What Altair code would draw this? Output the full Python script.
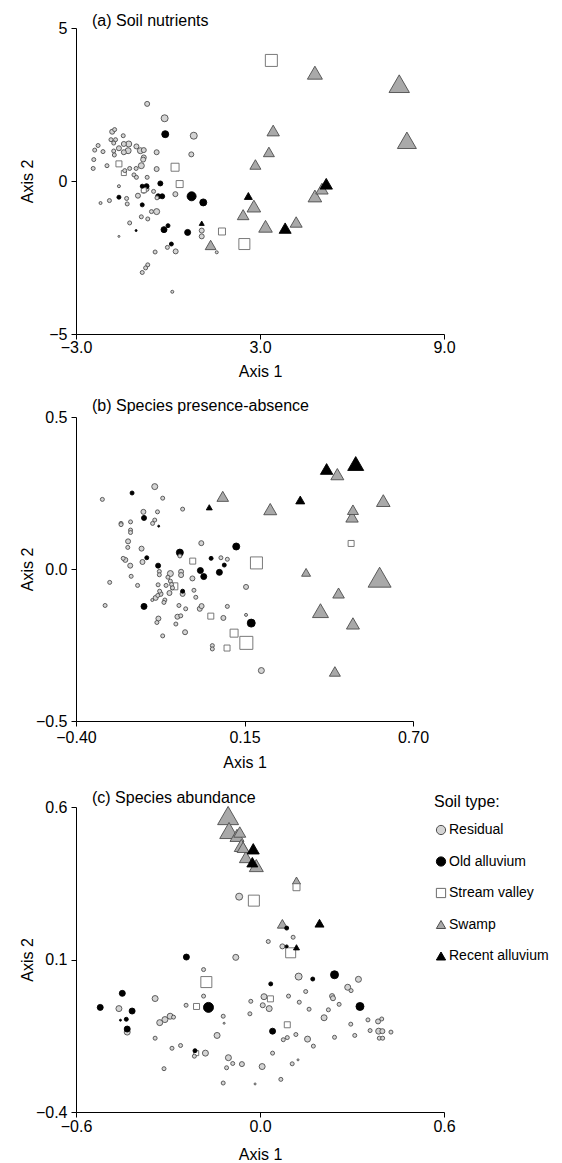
import altair as alt
import pandas as pd

SOIL = ["Residual", "Old alluvium", "Stream valley", "Swamp", "Recent alluvium"]
SHAPES = ["circle", "circle", "square", "triangle-up", "triangle-up"]
FILLS = ["#d4d4d4", "#000000", "#ffffff", "#a9a9a9", "#000000"]
STROKES = ["#4d4d4d", "#000000", "#6b6b6b", "#4d4d4d", "#000000"]

# ---------------- (a) Soil nutrients: (axis1, axis2, weight) ----------------
A_RES = [(-0.68, 2.52, 2.5), (-0.11, 2.05, 3.5), (0.84, 1.48, 3.5), (0.76, 0.87, 2.5),
         (-1.82, 1.61, 2.5), (-1.74, 1.68, 2), (-1.46, 1.48, 2), (-1.86, 1.35, 2),
         (-1.71, 1.35, 2), (-1.77, 1.24, 2), (-1.60, 1.07, 2.5), (-1.44, 1.21, 2.5),
         (-1.28, 1.21, 3), (-1.44, 0.94, 2.5), (-1.30, 0.99, 3), (-1.03, 1.13, 2.5),
         (-0.90, 0.99, 3), (-0.79, 1.01, 2.5), (-0.79, 0.77, 2.5), (-0.81, 0.70, 2.5),
         (-1.77, 0.98, 2), (-1.75, 0.85, 2), (-2.28, 1.16, 2), (-2.39, 1.01, 2),
         (-2.12, 0.96, 2), (-2.42, 0.70, 2), (-2.44, 0.41, 2), (-1.99, 0.50, 2),
         (-1.41, 0.34, 2), (-1.25, 0.41, 2), (-1.04, 0.41, 2), (-0.87, 0.50, 3),
         (-0.37, 0.94, 2.5), (-0.37, 0.39, 2.5), (-1.11, 0.20, 2), (-1.03, 0.12, 2),
         (-0.68, 0.12, 2), (-0.47, -0.34, 2), (-0.36, -0.55, 2), (0.24, -0.43, 2.5),
         (-0.79, -0.32, 2.5), (-0.70, -0.26, 2.5), (-0.98, -0.48, 2.5), (-1.35, -0.57, 2),
         (-1.33, -0.75, 2), (-1.91, -0.64, 2), (-2.20, -0.72, 1.5), (-1.60, -0.17, 1.5),
         (-0.87, -1.17, 2), (-0.66, -1.24, 2), (-0.54, -1.00, 2), (-0.37, -1.00, 3),
         (-1.25, -1.37, 2), (-1.60, -1.81, 1), (1.10, -1.62, 2.5), (1.10, -1.81, 2.5),
         (1.59, -2.33, 1.5), (-0.02, -2.17, 2), (0.25, -2.30, 2.5), (-0.42, -2.32, 2),
         (-0.66, -2.74, 2), (-0.73, -2.84, 2), (-0.84, -2.99, 2), (0.14, -3.62, 1.5)]
A_OLD = [(-0.09, 1.53, 3.5), (-0.25, -0.08, 2.5), (-0.32, -0.50, 2.5), (-0.19, -0.50, 2.5),
         (0.77, -0.50, 4.5), (1.15, -0.70, 3.5), (-0.84, -0.17, 2), (-0.70, -0.17, 2.5),
         (-1.60, -0.53, 2), (-0.84, -0.78, 2), (-1.04, -1.62, 1), (-0.13, -1.59, 3),
         (0.00, -1.46, 2), (0.64, -1.68, 3), (0.11, -2.06, 2)]
A_STREAM = [(3.37, 3.94, 6), (2.49, -2.06, 5.5), (1.76, -1.65, 3.5), (0.38, -0.10, 3.5),
            (0.23, 0.45, 4), (-1.60, 0.56, 3), (-1.44, 0.26, 2.5), (-0.79, -0.30, 2.5)]
A_SWAMP = [(4.79, 3.54, 7.5), (7.54, 3.18, 10.2), (7.79, 1.33, 9.5), (3.43, 1.65, 6.2),
           (3.29, 0.95, 5.5), (2.85, 0.54, 5.5), (5.02, -0.25, 6.2), (4.79, -0.49, 6.8),
           (2.80, -0.82, 6.8), (2.45, -1.10, 5.8), (3.18, -1.48, 6.8), (4.18, -1.34, 6),
           (1.39, -2.09, 5.4)]
A_RECENT = [(5.16, -0.09, 6.2), (2.62, -0.49, 4), (3.82, -1.54, 6), (1.10, -1.38, 2.5)]

# ---------------- (b) Species presence-absence ----------------
B_RES = [(-0.143, 0.271, 3), (-0.314, 0.229, 2), (-0.117, 0.233, 2), (-0.052, 0.197, 2),
         (-0.180, 0.188, 2.5), (-0.134, 0.188, 2), (-0.143, 0.161, 2), (-0.150, 0.150, 2),
         (-0.253, 0.150, 2), (-0.253, 0.146, 2), (-0.222, 0.155, 2), (-0.222, 0.128, 2),
         (-0.222, 0.120, 2), (-0.230, 0.091, 2.5), (-0.231, 0.071, 2), (-0.186, 0.067, 2.5),
         (0.009, 0.085, 2.5), (-0.061, 0.043, 2), (-0.246, 0.035, 2), (-0.239, 0.030, 2.5),
         (-0.223, 0.011, 2.5), (-0.183, 0.023, 2.5), (-0.128, -0.008, 2), (0.073, 0.037, 2),
         (0.094, 0.032, 2), (0.155, -0.059, 2.5), (-0.290, -0.044, 2), (-0.220, -0.024, 2),
         (-0.199, -0.054, 2), (-0.305, -0.120, 2), (-0.132, -0.052, 2), (-0.128, -0.019, 2),
         (-0.106, -0.054, 2), (-0.092, -0.015, 3), (-0.100, -0.027, 2), (-0.092, -0.040, 2),
         (-0.088, -0.051, 2), (-0.085, -0.062, 2), (-0.057, -0.009, 2.5), (-0.057, -0.020, 2.5),
         (-0.052, -0.082, 2.5), (-0.095, -0.079, 2.5), (-0.127, -0.073, 2), (-0.133, -0.087, 2),
         (-0.124, -0.082, 2.5), (-0.140, -0.095, 2.5), (-0.151, -0.102, 1.5), (-0.110, -0.102, 2),
         (-0.113, -0.110, 2), (-0.020, -0.031, 2.5), (-0.015, -0.070, 2), (-0.009, -0.093, 2),
         (-0.064, -0.120, 2), (-0.042, -0.131, 2), (-0.069, -0.157, 2.5), (-0.058, -0.154, 2),
         (-0.131, -0.163, 2.5), (-0.136, -0.176, 2), (-0.074, -0.181, 2), (-0.044, -0.208, 2.5),
         (-0.117, -0.220, 2), (0.004, -0.131, 2.5), (0.010, -0.122, 2.5), (0.081, -0.161, 2.5),
         (0.094, -0.123, 2), (0.155, -0.151, 1.5), (0.045, -0.252, 2), (0.045, -0.263, 2),
         (0.205, -0.334, 3)]
B_OLD = [(-0.217, 0.250, 2), (-0.178, 0.168, 2.5), (-0.130, 0.141, 1), (-0.061, 0.054, 3.5),
         (-0.169, 0.037, 2), (-0.132, 0.011, 2.5), (0.041, 0.035, 2), (0.084, 0.013, 2),
         (0.006, -0.005, 3), (0.017, -0.025, 3), (0.068, -0.011, 3), (0.123, 0.074, 3.5),
         (-0.178, -0.123, 3), (-0.052, -0.073, 2), (0.172, -0.178, 4)]
B_STREAM = [(0.189, 0.020, 6), (0.156, -0.243, 6.5), (0.116, -0.211, 4), (0.093, -0.260, 3),
            (0.040, -0.155, 3), (-0.019, 0.026, 3), (-0.079, -0.057, 3.5), (0.498, 0.084, 3)]
B_SWAMP = [(0.453, 0.312, 6.5), (0.079, 0.239, 5.8), (0.234, 0.197, 6.5), (0.504, 0.195, 5.5),
           (0.501, 0.172, 6.2), (0.603, 0.225, 6.8), (0.351, -0.011, 4.5), (0.591, -0.027, 11.5),
           (0.457, -0.079, 5.8), (0.398, -0.137, 8), (0.504, -0.179, 6.5), (0.445, -0.337, 5.5)]
B_RECENT = [(0.418, 0.329, 6.2), (0.513, 0.347, 8), (0.332, 0.227, 4.5), (0.035, 0.203, 3)]

# ---------------- (c) Species abundance ----------------
C_RES = [(-0.068, 0.306, 3.5), (0.108, 0.173, 2), (0.027, 0.159, 2), (0.073, 0.143, 2.5),
         (-0.079, 0.107, 3), (-0.184, 0.067, 2), (0.126, 0.044, 3.5), (0.149, -0.005, 2),
         (-0.184, -0.020, 2), (0.013, -0.022, 3), (0.093, -0.020, 2), (-0.342, -0.028, 3),
         (-0.460, -0.061, 3), (-0.241, -0.050, 2), (-0.030, -0.037, 2), (0.009, -0.050, 2.5),
         (0.030, -0.061, 3), (0.128, -0.040, 2), (-0.033, -0.078, 2), (-0.120, -0.086, 2),
         (-0.117, -0.109, 1), (-0.327, -0.107, 3), (-0.310, -0.097, 3), (-0.293, -0.086, 3),
         (-0.282, -0.089, 2), (-0.433, -0.138, 3), (-0.342, -0.158, 2), (-0.140, -0.149, 3),
         (0.117, -0.146, 2), (0.089, -0.156, 2), (0.076, -0.163, 2), (0.155, -0.161, 3),
         (-0.287, -0.191, 2), (-0.259, -0.182, 2), (-0.214, -0.217, 2), (-0.178, -0.207, 3),
         (-0.103, -0.222, 3), (-0.089, -0.241, 2), (-0.059, -0.243, 2.5), (0.007, -0.251, 3),
         (0.041, -0.207, 2), (0.105, -0.242, 2), (0.124, -0.229, 1), (-0.313, -0.258, 2),
         (-0.109, -0.255, 2), (-0.120, -0.305, 2), (-0.016, -0.308, 1), (0.068, -0.293, 2),
         (0.321, 0.035, 3), (0.286, 0.009, 3), (0.297, -0.002, 2), (0.160, -0.063, 2),
         (0.223, -0.065, 2), (0.235, -0.020, 2.5), (0.238, -0.027, 2.5), (0.258, -0.047, 2),
         (0.209, -0.091, 3), (0.296, -0.112, 2), (0.352, -0.098, 2), (0.385, -0.103, 2.5),
         (0.397, -0.095, 2), (0.359, -0.133, 2), (0.387, -0.135, 3), (0.399, -0.135, 2.5),
         (0.389, -0.158, 2), (0.400, -0.158, 2), (0.427, -0.138, 2), (0.309, -0.149, 2),
         (0.243, -0.155, 2), (0.174, -0.184, 2)]
C_OLD = [(0.087, 0.203, 2), (0.087, 0.143, 1.5), (-0.240, 0.108, 3), (0.035, 0.020, 2),
         (-0.449, -0.011, 3), (-0.521, -0.057, 3), (-0.417, -0.069, 3), (-0.436, -0.096, 2),
         (-0.455, -0.099, 1), (-0.168, -0.057, 5), (-0.433, -0.128, 3), (0.041, -0.135, 3),
         (-0.212, -0.199, 2), (0.172, 0.036, 2), (0.243, 0.050, 4), (0.326, -0.054, 4)]
C_STREAM = [(0.119, 0.337, 3.5), (-0.020, 0.293, 5.5), (0.100, 0.122, 5), (-0.175, 0.026, 5.5),
            (0.034, -0.029, 3), (-0.207, -0.054, 3), (0.089, -0.114, 3), (-0.208, -0.207, 2.5)]
C_SWAMP = [(-0.104, 0.572, 10.5), (-0.101, 0.523, 9.3), (-0.075, 0.507, 7), (-0.066, 0.518, 6),
           (-0.061, 0.474, 7), (-0.055, 0.468, 6), (-0.046, 0.436, 6.5), (-0.012, 0.408, 7),
           (0.119, 0.359, 4), (0.073, 0.217, 5)]
C_RECENT = [(-0.022, 0.463, 6), (-0.025, 0.419, 5.5), (0.194, 0.219, 4.5), (0.119, 0.140, 3)]

FONT = "Liberation Sans"


def frame(groups):
    rows = []
    for soil, pts in zip(SOIL, groups):
        for x, y, w in pts:
            rows.append({"soil": soil, "x": x, "y": y, "w": w})
    return pd.DataFrame(rows).sort_values("w", ascending=False, kind="stable")


def panel(df, title, xdom, xvals, xfmt, ydom, yvals, yfmt, width, height,
          lab_pad, title_pad, title_off, legend=None):
    x_axis = alt.Axis(values=xvals, format=xfmt, title="Axis 1", labelPadding=lab_pad,
                      titlePadding=title_pad, labelFlush=False)
    y_axis = alt.Axis(values=yvals, format=yfmt, title="Axis 2", labelPadding=4,
                      titleX=-49, titleY=height / 2, titleBaseline="middle",
                      titleAngle=270, labelFlush=False)
    if legend is None:
        sh = alt.Shape("soil:N", scale=alt.Scale(domain=SOIL, range=SHAPES), legend=None)
        fi = alt.Fill("soil:N", scale=alt.Scale(domain=SOIL, range=FILLS), legend=None)
        st = alt.Stroke("soil:N", scale=alt.Scale(domain=SOIL, range=STROKES), legend=None)
    else:
        sh = alt.Shape("soil:N", scale=alt.Scale(domain=SOIL, range=SHAPES), legend=legend)
        fi = alt.Fill("soil:N", scale=alt.Scale(domain=SOIL, range=FILLS), legend=legend)
        st = alt.Stroke("soil:N", scale=alt.Scale(domain=SOIL, range=STROKES), legend=legend)
    return alt.Chart(df).mark_point(opacity=1, strokeWidth=0.9).encode(
        x=alt.X("x:Q", scale=alt.Scale(domain=xdom, nice=False, zero=False), axis=x_axis),
        y=alt.Y("y:Q", scale=alt.Scale(domain=ydom, nice=False, zero=False), axis=y_axis),
        shape=sh, fill=fi, stroke=st,
        size=alt.Size("w:Q", scale=alt.Scale(type="pow", exponent=2, domain=[0, 10],
                                             range=[0, 400]), legend=None),
        order=alt.Order("w:Q", sort="descending"),
    ).properties(
        width=width, height=height,
        title=alt.TitleParams(title, anchor="start", frame="group", dx=16, offset=title_off,
                              baseline="alphabetic", fontSize=16, fontWeight="normal",
                              font=FONT, color="black"),
    )


legend_c = alt.Legend(title="Soil type:", orient="none", legendX=358, legendY=-13.5,
                      titleFontSize=16, titleFontWeight="normal", titleColor="black",
                      titleFont=FONT, labelFont=FONT, labelFontSize=14, labelColor="black",
                      symbolSize=85, symbolStrokeWidth=1, rowPadding=17.5, titlePadding=13.5,
                      labelOffset=1, padding=0)

pa = panel(frame([A_RES, A_OLD, A_STREAM, A_SWAMP, A_RECENT]), "(a) Soil nutrients",
           [-3, 9], [-3, 3, 9], ".1f", [-5, 5], [-5, 0, 5], "d", 368, 306, 0, 8, -22)
pb = panel(frame([B_RES, B_OLD, B_STREAM, B_SWAMP, B_RECENT]), "(b) Species presence-absence",
           [-0.4, 0.7], [-0.4, 0.15, 0.7], ".2f", [-0.5, 0.5], [-0.5, 0, 0.5], ".1f",
           337, 304, 3, 9, -18)
pc = panel(frame([C_RES, C_OLD, C_STREAM, C_SWAMP, C_RECENT]), "(c) Species abundance",
           [-0.6, 0.6], [-0.6, 0, 0.6], ".1f", [-0.4, 0.6], [-0.4, 0.1, 0.6], ".1f",
           368, 305, 1.5, 12, -25, legend=legend_c)

chart = alt.vconcat(pa, pb, pc, spacing=19).resolve_scale(
    x="independent", y="independent", shape="independent", fill="independent",
    stroke="independent", size="independent",
).properties(
    padding={"left": 19, "top": 13, "right": 0, "bottom": 0},
    background="white",
).configure_axis(
    domainColor="black", tickColor="black", tickSize=5, grid=False,
    labelFont=FONT, titleFont=FONT, labelFontSize=16, titleFontSize=16,
    titleFontWeight="normal", labelColor="black", titleColor="black",
).configure_view(strokeWidth=0)

chart.save("out.html", embed_options={"renderer": "svg", "actions": False})
